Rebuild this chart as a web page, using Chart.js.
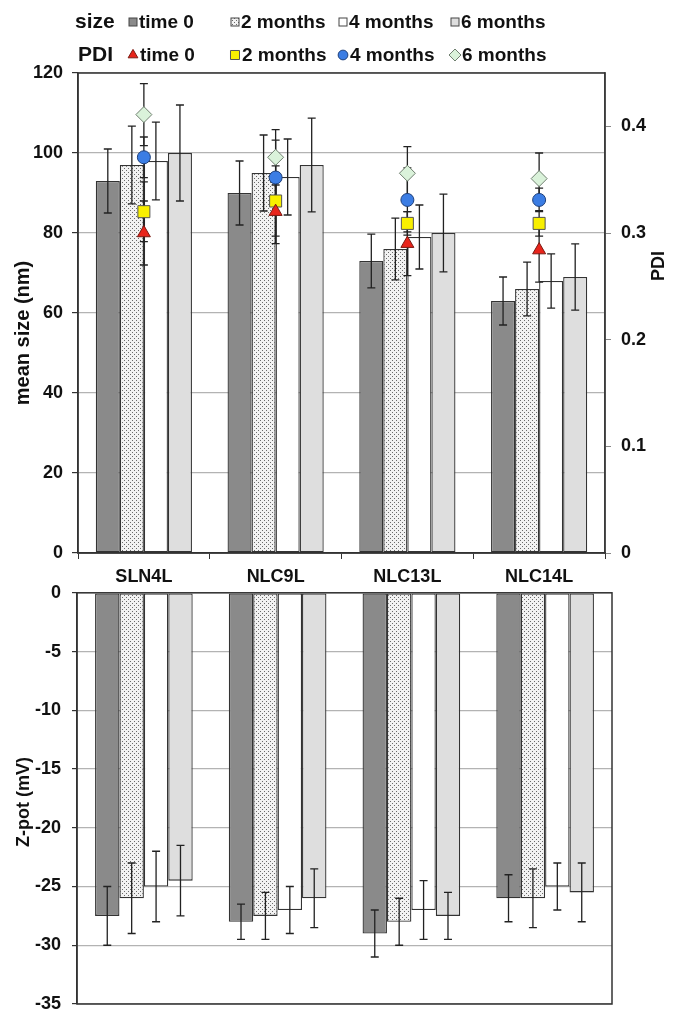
<!DOCTYPE html>
<html>
<head>
<meta charset="utf-8">
<script src="https://cdn.jsdelivr.net/npm/chart.js@4.4.1/dist/chart.umd.min.js"></script>
<style>
html, body { margin: 0; padding: 0; background: #fff; }
#wrap { position: relative; width: 680px; height: 1029px; }
#wrap canvas { position: absolute; left: 0; }
#sizeChart { top: 0; }
#zetaChart { top: 571px; }
</style>
</head>
<body>
<div id="wrap">
  <canvas id="sizeChart" width="680" height="592"></canvas>
  <canvas id="zetaChart" width="680" height="458"></canvas>
</div>
<script>
// formulations and storage times
const categories = ['SLN4L', 'NLC9L', 'NLC13L', 'NLC14L'];
const seriesNames = ['time 0', '2 months', '4 months', '6 months'];

// mean size (nm) and sd
const size0 = [93, 90, 73, 63];
const size0Err = [8, 8, 6.7, 6];
const size2 = [97, 95, 76, 66];
const size2Err = [9.7, 9.5, 7.7, 6.7];
const size4 = [98, 94, 79, 68];
const size4Err = [9.7, 9.5, 8, 6.8];
const size6 = [100, 97, 80, 69];
const size6Err = [12, 11.7, 9.7, 8.3];

// PDI and sd
const pdi0 = [0.300, 0.320, 0.290, 0.284];
const pdi0Err = [0.030, 0.030, 0.030, 0.030];
const pdi2 = [0.320, 0.330, 0.309, 0.309];
const pdi2Err = [0.028, 0.033, 0.011, 0.012];
const pdi4 = [0.371, 0.352, 0.331, 0.331];
const pdi4Err = [0.019, 0.035, 0.030, 0.011];
const pdi6 = [0.411, 0.371, 0.356, 0.351];
const pdi6Err = [0.029, 0.026, 0.025, 0.024];

// zeta potential (mV) and sd
const zeta0 = [-27.5, -28, -29, -26];
const zeta0Err = [2.5, 1.5, 2, 2];
const zeta2 = [-26, -27.5, -28, -26];
const zeta2Err = [3, 2, 2, 2.5];
const zeta4 = [-25, -27, -27, -25];
const zeta4Err = [3, 2, 2.5, 2];
const zeta6 = [-24.5, -26, -27.5, -25.5];
const zeta6Err = [3, 2.5, 2, 2.5];

// axis ranges [min, max, step]
const sizeRange = [0, 120, 20];
const pdiRange = [0, 0.45, 0.1];
const zetaRange = [-35, 0, 5];

const FONT = '"Liberation Sans", Arial, sans-serif';
Chart.defaults.font.family = FONT;
Chart.defaults.color = '#111';

// motif pointillé pour la série "2 months"
function makeDots() {
    const c = document.createElement('canvas');
    c.width = 4; c.height = 4;
    const g = c.getContext('2d');
    g.fillStyle = '#f2f2f2';
    g.fillRect(0, 0, 4, 4);
    g.fillStyle = '#6a6a6a';
    g.fillRect(0, 0, 1, 1);
    g.fillRect(2, 2, 1, 1);
    return g.createPattern(c, 'repeat');
}
const dots = makeDots();
const barFills = ['#8a8a8a', dots, '#ffffff', '#dedede'];

const pdiStyles = [
    { pointStyle: 'triangle', radius: 7.5, fill: '#e8241b', border: '#7a1a12' },
    { pointStyle: 'rect', radius: 8.5, fill: '#f8ef00', border: '#555' },
    { pointStyle: 'circle', radius: 6.5, fill: '#3b7de4', border: '#1d3f7a' },
    { pointStyle: 'rectRot', radius: 8, fill: '#daf2da', border: '#6f7f6f' }
];

// barres d'erreur
function drawErr(ctx, x, yScale, v, e, half) {
    const yt = yScale.getPixelForValue(v + e);
    const yb = yScale.getPixelForValue(v - e);
    ctx.beginPath();
    ctx.moveTo(x, yt); ctx.lineTo(x, yb);
    ctx.moveTo(x - half, yt); ctx.lineTo(x + half, yt);
    ctx.moveTo(x - half, yb); ctx.lineTo(x + half, yb);
    ctx.stroke();
}

const errorBarsPlugin = {
    id: 'errorBars',
    beforeDatasetsDraw(chart) { chart.$pointErrDone = false; },
    afterDatasetDraw(chart, args) {
        const meta = args.meta;
        if (meta.type !== 'bar') return;
        const ds = chart.data.datasets[args.index];
        const ctx = chart.ctx;
        ctx.save();
        ctx.strokeStyle = '#222';
        ctx.lineWidth = 1.3;
        meta.data.forEach((el, j) => drawErr(ctx, el.x, chart.scales[meta.yAxisID], ds.data[j], ds.errors[j], 4));
        ctx.restore();
    },
    beforeDatasetDraw(chart, args) {
        if (args.meta.type !== 'line' || chart.$pointErrDone) return;
        chart.$pointErrDone = true;
        const ctx = chart.ctx;
        ctx.save();
        ctx.strokeStyle = '#222';
        ctx.lineWidth = 1.3;
        chart.data.datasets.forEach((ds, i) => {
            const meta = chart.getDatasetMeta(i);
            if (meta.type !== 'line') return;
            meta.data.forEach((el, j) => drawErr(ctx, el.x, chart.scales[meta.yAxisID], ds.data[j], ds.errors[j], 4));
        });
        ctx.restore();
    }
};

// cadre de la zone de tracé
const framePlugin = {
    id: 'frame',
    afterDraw(chart) {
        const a = chart.chartArea;
        const ctx = chart.ctx;
        ctx.save();
        ctx.strokeStyle = '#333';
        ctx.lineWidth = 1.5;
        ctx.strokeRect(a.left, a.top, a.right - a.left, a.bottom - a.top);
        ctx.restore();
    }
};

// titres d'axes verticaux
const sideTitlesPlugin = {
    id: 'sideTitles',
    afterDraw(chart, args, opts) {
        const ctx = chart.ctx;
        (opts.items || []).forEach(t => {
            ctx.save();
            ctx.translate(t.x, t.y);
            ctx.rotate(-Math.PI / 2);
            ctx.textAlign = 'center';
            ctx.textBaseline = 'middle';
            ctx.font = t.font;
            ctx.fillStyle = '#111';
            ctx.fillText(t.text, 0, 0);
            ctx.restore();
        });
    }
};

// légende sur deux lignes (size / PDI)
const legendPlugin = {
    id: 'twoRowLegend',
    afterDraw(chart) {
        const ctx = chart.ctx;
        const cols = [133, 235, 343, 455];
        const rowSize = 22, rowPdi = 55;
        ctx.save();
        ctx.textBaseline = 'middle';
        ctx.textAlign = 'left';
        ctx.fillStyle = '#111';
        ctx.font = 'bold 21px ' + FONT;
        ctx.fillText('size', 75, rowSize);
        ctx.fillText('PDI', 78, rowPdi);
        ctx.font = 'bold 19px ' + FONT;
        seriesNames.forEach((name, i) => {
            ctx.fillStyle = barFills[i];
            ctx.strokeStyle = '#444';
            ctx.lineWidth = 1;
            ctx.fillRect(cols[i] - 4, rowSize - 4, 8, 8);
            ctx.strokeRect(cols[i] - 4, rowSize - 4, 8, 8);
            ctx.fillStyle = '#111';
            ctx.fillText(name, cols[i] + 6, rowSize + 1);

            const s = pdiStyles[i];
            ctx.fillStyle = s.fill;
            ctx.strokeStyle = s.border;
            Chart.helpers.drawPoint(ctx, { pointStyle: s.pointStyle, radius: s.radius * 0.75, borderWidth: 1, rotation: 0 }, cols[i], rowPdi);
            ctx.fillStyle = '#111';
            ctx.fillText(name, cols[i] + 7, rowPdi + 1);
        });
        ctx.restore();
    }
};

const sizeSets = [size0, size2, size4, size6];
const sizeErrs = [size0Err, size2Err, size4Err, size6Err];
const pdiSets = [pdi0, pdi2, pdi4, pdi6];
const pdiErrs = [pdi0Err, pdi2Err, pdi4Err, pdi6Err];
const zetaSets = [zeta0, zeta2, zeta4, zeta6];
const zetaErrs = [zeta0Err, zeta2Err, zeta4Err, zeta6Err];

function barDataset(name, data, errs, i, axis) {
    return {
        type: 'bar',
        label: name,
        data: data,
        errors: errs,
        yAxisID: axis,
        backgroundColor: barFills[i],
        borderColor: '#333',
        borderWidth: 1.3,
        borderSkipped: false,
        categoryPercentage: 0.73,
        barPercentage: 1,
        order: 1
    };
}

const topDatasets = seriesNames.map((n, i) => barDataset(n, sizeSets[i], sizeErrs[i], i, 'y'));
seriesNames.forEach((n, i) => {
    const s = pdiStyles[i];
    topDatasets.push({
        type: 'line',
        label: 'PDI ' + n,
        data: pdiSets[i],
        errors: pdiErrs[i],
        yAxisID: 'y1',
        showLine: false,
        pointStyle: s.pointStyle,
        pointRadius: s.radius,
        pointBackgroundColor: s.fill,
        pointBorderColor: s.border,
        pointBorderWidth: 1,
        order: 0
    });
});

const tickFont = { size: 18, weight: 'bold' };

new Chart(document.getElementById('sizeChart'), {
    data: { labels: categories, datasets: topDatasets },
    options: {
        responsive: false,
        animation: false,
        layout: { padding: { top: 73, left: 0, right: 0, bottom: 0 } },
        plugins: {
            legend: { display: false },
            tooltip: { enabled: false },
            sideTitles: {
                items: [
                    { text: 'mean size (nm)', x: 23, y: 333, font: 'bold 20px ' + FONT },
                    { text: 'PDI', x: 659, y: 266, font: 'bold 18px ' + FONT }
                ]
            }
        },
        scales: {
            x: {
                offset: true,
                grid: { offset: true, drawOnChartArea: false, tickLength: 6, tickColor: '#333' },
                border: { color: '#333', width: 1.5 },
                ticks: { font: tickFont, color: '#111', padding: 7 },
                afterFit: s => { s.height = 39; }
            },
            y: {
                position: 'left',
                min: sizeRange[0], max: sizeRange[1],
                ticks: { stepSize: sizeRange[2], font: tickFont, color: '#111', padding: 9 },
                grid: { color: '#b3b3b3', tickLength: 6, tickColor: '#333', lineWidth: 1.2 },
                border: { color: '#333', width: 1.5 },
                afterFit: s => { s.width = 78; }
            },
            y1: {
                position: 'right',
                min: pdiRange[0], max: pdiRange[1],
                ticks: { stepSize: pdiRange[2], font: tickFont, color: '#111', padding: 10 },
                afterBuildTicks: s => {
                    s.ticks = s.ticks.filter(t => Math.abs(t.value * 10 - Math.round(t.value * 10)) < 1e-6);
                },
                grid: { drawOnChartArea: false, tickLength: 6, tickColor: '#888' },
                border: { color: '#555', width: 1.5 },
                afterFit: s => { s.width = 75; }
            }
        }
    },
    plugins: [errorBarsPlugin, framePlugin, sideTitlesPlugin, legendPlugin]
});

new Chart(document.getElementById('zetaChart'), {
    data: {
        labels: categories,
        datasets: seriesNames.map((n, i) => barDataset(n, zetaSets[i], zetaErrs[i], i, 'y'))
    },
    options: {
        responsive: false,
        animation: false,
        layout: { padding: { top: 21, left: 0, right: 68, bottom: 25 } },
        plugins: {
            legend: { display: false },
            tooltip: { enabled: false },
            sideTitles: {
                items: [
                    { text: 'Z-pot (mV)', x: 24, y: 231, font: 'bold 18px ' + FONT }
                ]
            }
        },
        scales: {
            x: { display: false, offset: true },
            y: {
                min: zetaRange[0], max: zetaRange[1],
                ticks: { stepSize: zetaRange[2], font: tickFont, color: '#111', padding: 11 },
                grid: { color: '#b3b3b3', tickLength: 5, tickColor: '#333', lineWidth: 1.2 },
                border: { color: '#333', width: 1.5 },
                afterFit: s => { s.width = 77; }
            }
        }
    },
    plugins: [errorBarsPlugin, framePlugin, sideTitlesPlugin]
});
</script>
</body>
</html>
